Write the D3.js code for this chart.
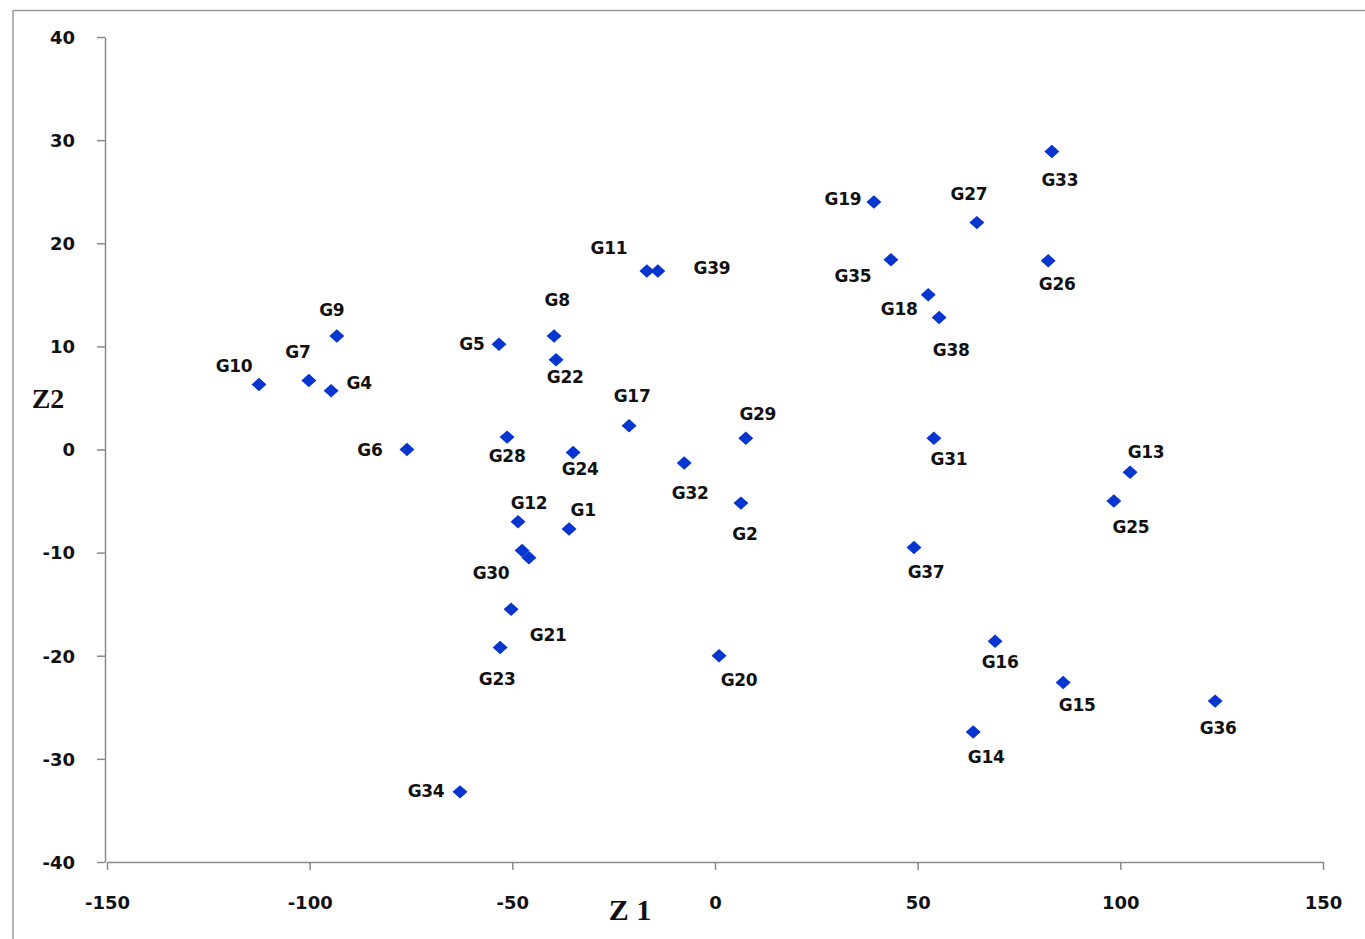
<!DOCTYPE html>
<html>
<head>
<meta charset="utf-8">
<script src="https://cdn.jsdelivr.net/npm/d3@7"></script>
<style>
  html, body { margin: 0; padding: 0; background: #fff; }
  svg { display: block; }
</style>
</head>
<body>
<svg id="chart" width="1365" height="939"></svg>
<script>
// ---- data ----
const names = ["G1","G2","G3","G4","G5","G6","G7","G8","G9","G10",
  "G11","G12","G13","G14","G15","G16","G17","G18","G19","G20",
  "G21","G22","G23","G24","G25","G26","G27","G28","G29","G30",
  "G31","G32","G33","G34","G35","G36","G37","G38","G39"];
const z1 = [-36.0, 6.4, -45.9, -94.7, -53.3, -76.0, -100.2, -39.7, -93.3, -112.5,
  -16.8, -48.6, 102.4, 63.7, 85.9, 69.1, -21.2, 52.6, 39.2, 1.0,
  -50.3, -39.2, -53.0, -35.0, 98.4, 82.2, 64.6, -51.3, 7.6, -47.6,
  54.0, -7.6, 83.1, -62.9, 43.4, 123.4, 49.1, 55.3, -14.1];
const z2 = [-7.7, -5.2, -10.5, 5.7, 10.2, 0.0, 6.7, 11.0, 11.0, 6.3,
  17.3, -7.0, -2.2, -27.4, -22.6, -18.6, 2.3, 15.0, 24.0, -20.0,
  -15.5, 8.7, -19.2, -0.3, -5.0, 18.3, 22.0, 1.2, 1.1, -9.8,
  1.1, -1.3, 28.9, -33.2, 18.4, -24.4, -9.5, 12.8, 17.3];
const xTicks = [-150, -100, -50, 0, 50, 100, 150];
const yTicks = [-40, -30, -20, -10, 0, 10, 20, 30, 40];

// ---- label placement (pixel offsets of label centre from its point) ----
const labelOffsets = {
  G1:[14,-19], G2:[4,31], G3:null, G4:[28,-8], G5:[-27,0], G6:[-37,0], G7:[-11,-28],
  G8:[3,-36], G9:[-5,-26], G10:[-25,-19], G11:[-38,-23], G12:[11,-19], G13:[16,-20],
  G14:[13,25], G15:[14,22], G16:[5,21], G17:[3,-30], G18:[-29,14], G19:[-31,-3],
  G20:[20,24], G21:[37,26], G22:[9,17], G23:[-3,31], G24:[7,16], G25:[17,26],
  G26:[9,23], G27:[-8,-29], G28:[0,19], G29:[12,-24], G30:[-31,22], G31:[15,21],
  G32:[6,30], G33:[8,29], G34:[-34,-1], G35:[-38,16], G36:[3,27], G37:[12,25],
  G38:[12,32], G39:[54,-3]
};

const points = names.map((n, i) => ({name: n, x: z1[i], y: z2[i]}));

const svg = d3.select("#chart");

// outer frame (top and left edges visible)
svg.append("line").attr("x1", 13).attr("y1", 10.5).attr("x2", 1365).attr("y2", 10.5)
  .attr("stroke", "#9a9a9a").attr("stroke-width", 1.5);
svg.append("line").attr("x1", 13).attr("y1", 10.5).attr("x2", 13).attr("y2", 939)
  .attr("stroke", "#9a9a9a").attr("stroke-width", 1.5);

const x = d3.scaleLinear().domain([-150, 150]).range([107, 1323]);
const y = d3.scaleLinear().domain([-40, 40]).range([862, 37]);

const tickFont = "'DejaVu Sans', Verdana, sans-serif";
const fmt = d => String(d);

// x axis
const gx = svg.append("g").attr("transform", `translate(0,${y(-40)})`)
  .call(d3.axisBottom(x).tickValues(xTicks).tickFormat(fmt).tickSize(8).tickSizeOuter(0));
gx.select(".domain").attr("stroke", "#8a8a8a").attr("stroke-width", 1.5);
gx.selectAll(".tick line").attr("stroke", "#8a8a8a").attr("stroke-width", 1.5);
gx.selectAll(".tick text").attr("font-family", tickFont).attr("font-weight", "bold")
  .attr("font-size", 18).attr("fill", "#111").attr("dy", "0.35em")
  .attr("y", 41);

// y axis
const gy = svg.append("g").attr("transform", `translate(${x(-150) - 2},0)`)
  .call(d3.axisLeft(y).tickValues(yTicks).tickFormat(fmt).tickSize(8).tickSizeOuter(0));
gy.select(".domain").attr("stroke", "#8a8a8a").attr("stroke-width", 1.5);
gy.selectAll(".tick line").attr("stroke", "#8a8a8a").attr("stroke-width", 1.5);
gy.selectAll(".tick text").attr("font-family", tickFont).attr("font-weight", "bold")
  .attr("font-size", 18).attr("fill", "#111").attr("x", -30).attr("dy", "0.35em");

// axis titles
svg.append("text").attr("x", 48).attr("y", 398).attr("text-anchor", "middle")
  .attr("dominant-baseline", "central")
  .attr("font-family", "'Liberation Serif', 'Times New Roman', serif")
  .attr("font-weight", "bold").attr("font-size", 28).attr("fill", "#111").text("Z2");
svg.append("text").attr("x", 630).attr("y", 909).attr("text-anchor", "middle")
  .attr("dominant-baseline", "central")
  .attr("font-family", "'Liberation Serif', 'Times New Roman', serif")
  .attr("font-weight", "bold").attr("font-size", 30).attr("fill", "#111").text("Z 1");

// markers
const diamond = d3.symbol().type(d3.symbolSquare).size(112);
svg.append("g").selectAll("path").data(points).join("path")
  .attr("d", diamond)
  .attr("transform", d => `translate(${x(d.x)},${y(d.y)}) scale(1,0.9) rotate(45)`)
  .attr("fill", "#0636cf");

// labels
svg.append("g").selectAll("text").data(points.filter(d => labelOffsets[d.name]))
  .join("text")
  .attr("x", d => x(d.x) + labelOffsets[d.name][0])
  .attr("y", d => y(d.y) + labelOffsets[d.name][1])
  .attr("text-anchor", "middle").attr("dominant-baseline", "central")
  .attr("font-family", tickFont).attr("font-weight", "bold")
  .attr("font-size", 17).attr("letter-spacing", "-0.3px").attr("fill", "#111")
  .text(d => d.name);
</script>
</body>
</html>
